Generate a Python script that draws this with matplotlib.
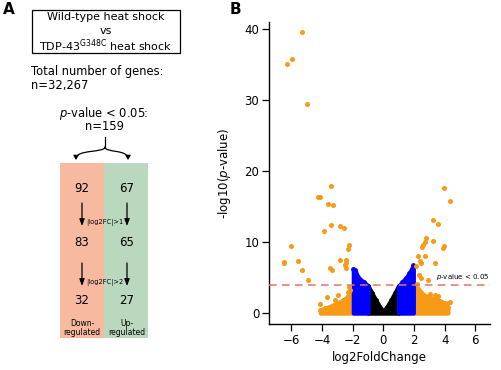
import matplotlib
matplotlib.use("Agg")
import matplotlib.pyplot as plt
from matplotlib.path import Path
from matplotlib.patches import FancyArrowPatch, Rectangle

plt.rcParams['font.family'] = ['DejaVu Sans']
plt.rcParams['mathtext.fontset'] = 'dejavusans'

# panel A counts
total_genes = "32,267"
sig_genes = 159
down_counts = [92, 83, 32]
up_counts = [67, 65, 27]
fc_labels = ["|log2FC|>1", "|log2FC|>2"]

# panel B: isolated significant genes (log2FC, -log10 p)
orange_x = [-5.32, -5.95, -6.30, -4.95, -3.39, 3.97, -4.25, -4.15, -3.63, -3.30,
            -3.43, -3.84, -2.82, -2.56, -6.04, -2.21, -2.28, -6.47, -6.50, -5.60,
            -5.32, -4.93, -2.82, -2.46, -2.41, -2.52, -3.45, -3.37, -2.41, -3.67,
            -4.10, -2.98, -3.13, -2.15, -2.21, -2.32, -2.59,
            4.36, 3.21, 3.58, 2.76, 2.69, 3.24, 3.99, 3.89, 2.58, 2.54, 2.24,
            2.69, 2.37, 2.46, 3.37, 2.32, 2.45, 2.93, 2.19, 2.11, 3.06, 3.37,
            3.58, 3.97, 4.19, 4.36]
orange_y = [39.6, 35.8, 35.1, 29.5, 17.9, 17.6, 16.4, 16.4, 15.4, 15.2,
            12.4, 11.5, 12.3, 12.0, 9.5, 9.6, 9.0, 7.2, 7.0, 7.3,
            6.0, 4.6, 7.5, 7.4, 7.0, 6.8, 6.4, 6.1, 6.4, 2.3,
            1.2, 2.6, 1.9, 3.2, 3.6, 2.9, 1.8,
            15.8, 13.1, 12.6, 10.6, 10.0, 10.1, 9.5, 9.2, 9.6, 9.3, 8.0,
            8.0, 7.3, 7.1, 7.1, 5.4, 5.0, 4.6, 4.1, 6.6, 2.7, 2.6,
            2.4, 1.2, 1.4, 1.6]

# panel B: upper edge of the dense clouds of genes (bottom is 0)
black_x = [-1.0, -0.75, -0.5, -0.25, 0.0, 0.25, 0.5, 0.75, 1.0]
black_top = [3.8, 2.8, 1.8, 0.9, 0.2, 0.9, 1.8, 2.8, 3.8]
blue_left_x = [-1.95, -1.85, -1.7, -1.5, -1.25, -1.0]
blue_left_top = [6.2, 6.0, 5.2, 4.7, 4.3, 3.8]
blue_right_x = [1.0, 1.25, 1.5, 1.7, 1.85, 1.95]
blue_right_top = [3.8, 4.4, 5.0, 5.6, 6.2, 6.7]
orange_left_x = [-4.1, -3.8, -3.5, -3.0, -2.6, -2.3, -2.05]
orange_left_top = [0.4, 0.7, 0.9, 1.4, 1.8, 2.4, 3.0]
orange_right_x = [2.05, 2.3, 2.6, 3.0, 3.5, 4.0, 4.2]
orange_right_top = [4.0, 3.3, 2.6, 2.2, 1.9, 1.4, 0.8]

p_cut = 3.9

ORANGE = '#F79A16'
BLUE = '#0000FF'
SALMON = '#F7BAA0'
GREEN = '#B9D8BE'

fig = plt.figure(figsize=(5.02, 3.70), dpi=100)

# ---------- panel A (drawn in pixel coords) ----------
pa = fig.add_axes([0, 0, 1, 1])
pa.set_xlim(0, 502)
pa.set_ylim(370, 0)
pa.axis('off')

pa.text(9, 10, "A", fontsize=11, fontweight='bold', ha='center', va='center')
pa.text(235, 10, "B", fontsize=11, fontweight='bold', ha='center', va='center')

pa.add_patch(Rectangle((32, 10), 148, 43, fill=False, lw=0.9, ec='black'))
pa.text(106, 17.5, "Wild-type heat shock", fontsize=8, ha='center', va='center')
pa.text(106, 31.5, "vs", fontsize=8, ha='center', va='center')
pa.text(106, 46, r"TDP-43$^{\mathrm{G348C}}$ heat shock", fontsize=8, ha='center', va='center')

pa.text(31, 71, "Total number of genes:", fontsize=8.3, ha='left', va='center')
pa.text(31, 85, "n=" + total_genes, fontsize=8.3, ha='left', va='center')
pa.text(104, 113, r"$p$-value < 0.05:", fontsize=8.3, ha='center', va='center')
pa.text(104, 127, "n=%d" % sig_genes, fontsize=8.3, ha='center', va='center')

# brace
pa.plot([105, 105], [137, 147], color='black', lw=0.9)
for xe in (76, 128):
    verts = [(105, 147), (105, 153), (xe, 149), (xe, 160)]
    path = Path(verts, [Path.MOVETO, Path.CURVE4, Path.CURVE4, Path.CURVE4])
    pa.add_patch(FancyArrowPatch(path=path, arrowstyle='-|>,head_length=2.5,head_width=1.5',
                                 color='black', lw=0.9))

# columns
pa.add_patch(Rectangle((60, 163), 44, 175, color=SALMON, lw=0))
pa.add_patch(Rectangle((104, 163), 44, 175, color=GREEN, lw=0))

rows_y = [188, 242, 300]
for i in range(3):
    pa.text(82, rows_y[i], str(down_counts[i]), fontsize=8.5, ha='center', va='center')
    pa.text(127, rows_y[i], str(up_counts[i]), fontsize=8.5, ha='center', va='center')

arrow_spans = [(203, 226), (263, 286)]
for (y0, y1), lab in zip(arrow_spans, fc_labels):
    for xa in (82, 127):
        pa.annotate("", xy=(xa, y1), xytext=(xa, y0),
                    arrowprops=dict(arrowstyle='-|>,head_length=0.4,head_width=0.15',
                                    color='black', lw=0.9, shrinkA=0, shrinkB=0))
    pa.text(105, y1 - 4, lab, fontsize=4.8, ha='center', va='center')

pa.text(82, 328, "Down-\nregulated", fontsize=5.5, ha='center', va='center', linespacing=1.1)
pa.text(127, 328, "Up-\nregulated", fontsize=5.5, ha='center', va='center', linespacing=1.1)

# ---------- panel B ----------
ax = fig.add_axes([269 / 502, 46 / 370, 221 / 502, 302 / 370])
ax.set_xlim(-7.46, 6.96)
ax.set_ylim(-1.55, 41.0)

edge = 3.2
clouds = [(orange_left_x, orange_left_top, ORANGE),
          (orange_right_x, orange_right_top, ORANGE),
          (black_x, black_top, 'black'),
          (blue_left_x, blue_left_top, BLUE),
          (blue_right_x, blue_right_top, BLUE)]
for cx, ctop, col in clouds:
    ax.fill_between(cx, [0] * len(cx), ctop, color=col, ec=col, lw=edge, zorder=2)
    ax.scatter(cx, ctop, s=12, color=col, lw=0, zorder=2)

ax.scatter(orange_x, orange_y, s=13, color=ORANGE, lw=0, zorder=3)

ax.axhline(p_cut, color='#E8715F', lw=1.1, ls=(0, (5, 3.5)), zorder=4)
ax.text(6.9, p_cut + 0.4, r"$p$-value < 0.05", fontsize=5, ha='right', va='bottom', zorder=5)

ax.spines['top'].set_visible(False)
ax.spines['right'].set_visible(False)
for s in ('left', 'bottom'):
    ax.spines[s].set_linewidth(1.0)
ax.set_xticks([-6, -4, -2, 0, 2, 4, 6])
ax.set_yticks([0, 10, 20, 30, 40])
ax.tick_params(labelsize=8.5, length=5, width=0.9, pad=2)
ax.set_xlabel("log2FoldChange", fontsize=8.5, labelpad=3)
ax.set_ylabel(r"-log10($p$-value)", fontsize=8.5, labelpad=8)

fig.savefig("out.png", dpi=100)
